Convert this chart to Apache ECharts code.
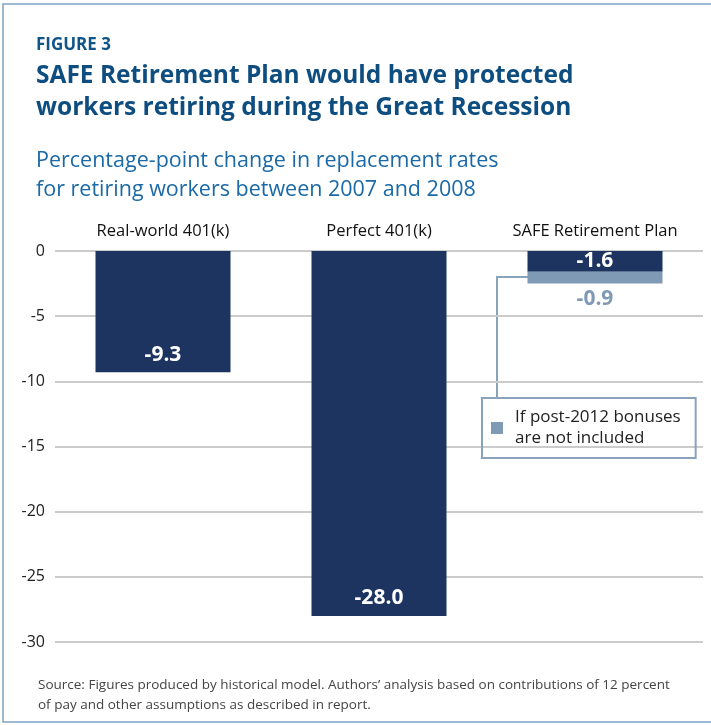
<!DOCTYPE html>
<html>
<head>
<meta charset="utf-8">
<script src="https://cdn.jsdelivr.net/npm/echarts@6/dist/echarts.min.js"></script>
<style>
  html, body { margin: 0; padding: 0; background: #fff; }
  #chart { width: 711px; height: 725px; }
</style>
</head>
<body>
<div id="chart"></div>
<script>
// Figure 3 · replacement-rate change 2007→2008

const CATEGORIES = ["Real-world 401(k)", "Perfect 401(k)", "SAFE Retirement Plan"];
const BASE_VALUES = [-9.3, -28.0, -1.6];
const NO_BONUS_EXTRA = [null, null, -0.9];
const Y_TICKS = { min: -30, max: 0, interval: 5 };

const FONT = "'Open Sans', 'Noto Sans', sans-serif";
const NAVY = "#1d3461";
const STEEL = "#7f9ab5";
const BLUE = "#0f5589";
const LEGEND_NAME = "If post-2012 bonuses\nare not included";

const chart = echarts.init(document.getElementById("chart"));

const baseData = BASE_VALUES.map((v, i) => ({
    value: v,
    label: i === 2
        ? { position: "inside" }
        : { position: "insideBottom", distance: 7 }
}));

const option = {
    animation: false,
    backgroundColor: "#fff",
    title: [
        {
            text: "FIGURE 3", left: 31, top: 32,
            textStyle: { color: BLUE, fontSize: 17, fontWeight: "bold", fontFamily: FONT }
        },
        {
            text: "SAFE Retirement Plan would have protected\nworkers retiring during the Great Recession",
            left: 31, top: 55,
            textStyle: { color: "#0e4d7f", fontSize: 24.5, fontWeight: "bold", fontFamily: FONT, lineHeight: 32 }
        },
        {
            text: "Percentage-point change in replacement rates\nfor retiring workers between 2007 and 2008",
            left: 31, top: 141,
            textStyle: { color: "#1b69a6", fontSize: 21.5, fontWeight: "normal", fontFamily: FONT, lineHeight: 29 }
        },
        {
            text: "Source: Figures produced by historical model. Authors\u2019 analysis based on contributions of 12 percent\nof pay and other assumptions as described in report.",
            left: 33, top: 670,
            textStyle: { color: "#444", fontSize: 13.5, fontWeight: "normal", fontFamily: FONT, lineHeight: 20 }
        }
    ],
    legend: {
        data: [LEGEND_NAME],
        left: 482, top: 398,
        orient: "vertical",
        icon: "rect",
        itemWidth: 12, itemHeight: 12,
        padding: [9, 15, 9, 9],
        borderColor: "#8aa3bd", borderWidth: 2,
        textStyle: { color: "#222", fontSize: 17, fontFamily: FONT, lineHeight: 21, padding: [0, 0, 0, 7] }
    },
    grid: { left: 55, right: 8, top: 251, bottom: 83 },
    xAxis: {
        type: "category",
        position: "top",
        data: CATEGORIES,
        axisLine: { show: false },
        axisTick: { show: false },
        axisLabel: { color: "#111", fontSize: 16.5, fontFamily: FONT, margin: 11 }
    },
    yAxis: {
        type: "value",
        min: Y_TICKS.min, max: Y_TICKS.max, interval: Y_TICKS.interval,
        axisLine: { show: false },
        axisTick: { show: false },
        axisLabel: { color: "#222", fontSize: 16, fontFamily: FONT, margin: 10 },
        splitLine: { lineStyle: { color: "#cbcbcb", width: 2 } }
    },
    series: [
        {
            name: "base",
            type: "bar",
            stack: "safe",
            barWidth: 135,
            data: baseData,
            itemStyle: { color: NAVY },
            label: {
                show: true, color: "#fff", fontSize: 21, fontWeight: "bold", fontFamily: FONT,
                formatter: (p) => p.value.toFixed(1)
            }
        },
        {
            name: LEGEND_NAME,
            type: "bar",
            stack: "safe",
            barWidth: 135,
            data: NO_BONUS_EXTRA,
            itemStyle: { color: STEEL },
            label: {
                show: true, position: "bottom", distance: 5,
                color: STEEL, fontSize: 21, fontWeight: "bold", fontFamily: FONT,
                formatter: (p) => p.value == null ? "" : p.value.toFixed(1)
            }
        }
    ],
    graphic: [
        {
            type: "rect", silent: true,
            shape: { x: 3, y: 4, width: 730, height: 718 },
            style: { fill: "none", stroke: "#7ea4c4", lineWidth: 1.5 }
        },
        {
            type: "polyline", silent: true,
            shape: { points: [[528, 277], [497, 277], [497, 398]] },
            style: { fill: "none", stroke: "#8aa3bd", lineWidth: 2 }
        }
    ]
};

chart.setOption(option);
</script>
</body>
</html>
